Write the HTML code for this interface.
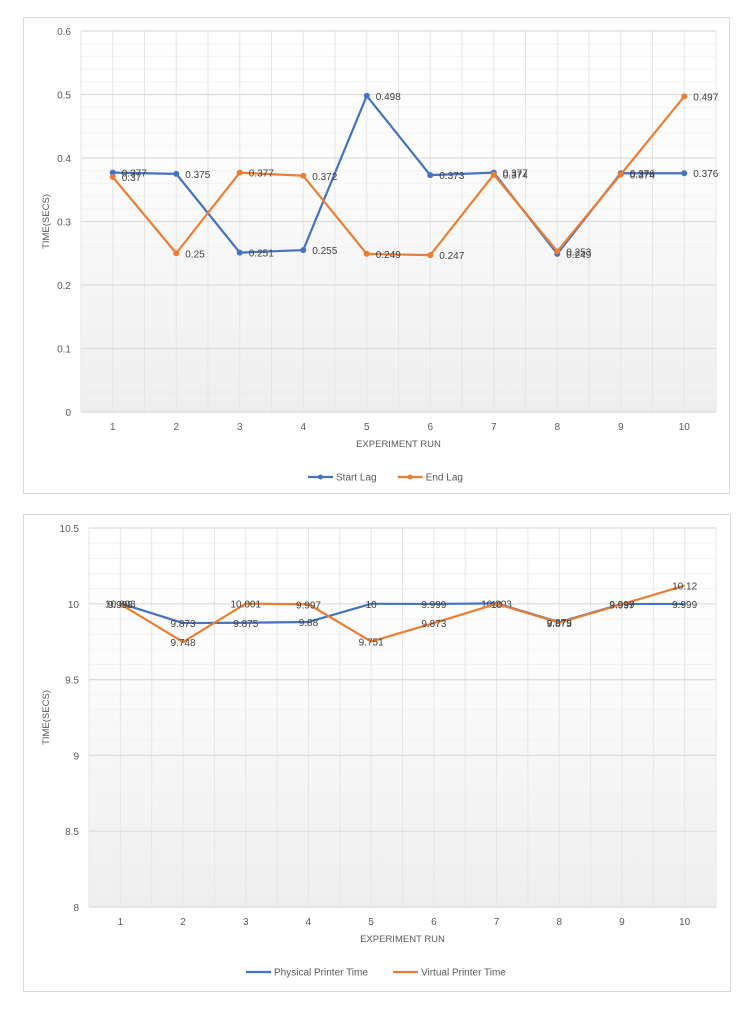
<!DOCTYPE html>
<html><head><meta charset="utf-8">
<style>
body{margin:0;background:#fff;font-family:"Liberation Sans",sans-serif;}
svg text{font-family:"Liberation Sans",sans-serif;}
</style></head>
<body>
<svg id="svg" width="753" height="1015" xmlns="http://www.w3.org/2000/svg">
<defs>
<linearGradient id="bg" x1="0" y1="0" x2="0" y2="1">
<stop offset="0" stop-color="#ffffff"/><stop offset="0.4" stop-color="#fbfbfb"/><stop offset="1" stop-color="#eeeeee"/>
</linearGradient>
</defs>
</svg>
<script>
const categories=["1","2","3","4","5","6","7","8","9","10"];
const startLag=[0.377,0.375,0.251,0.255,0.498,0.373,0.377,0.249,0.376,0.376];
const endLag=[0.37,0.25,0.377,0.372,0.249,0.247,0.374,0.253,0.374,0.497];
const yTicks1=[0,0.1,0.2,0.3,0.4,0.5,0.6];
const physical=[10.003,9.873,9.875,9.88,10,9.999,10.003,9.879,9.999,9.999];
const virtual=[9.998,9.748,10.001,9.997,9.751,9.873,10,9.875,9.997,10.12];
const yTicks2=[8,8.5,9,9.5,10,10.5];

const NS="http://www.w3.org/2000/svg";
const svg=document.getElementById('svg');
function el(tag,attrs,parent){const e=document.createElementNS(NS,tag);for(const k in attrs)e.setAttribute(k,attrs[k]);(parent||svg).appendChild(e);return e;}

function chart(cfg){
  const g=el('g',{});
  
  
  const fr=el('rect',{x:cfg.fx,y:cfg.fy,width:cfg.fw,height:cfg.fh,fill:'#fff',stroke:'#d9d9d9'},g);
  
  
  const L=cfg.L,R=cfg.R,T=cfg.T,B=cfg.B;
  const pa=el('rect',{x:L,y:T,width:R-L,height:B-T,fill:'url(#bg)'},g);
  
  
  const ymin=cfg.ticks[0],ymax=cfg.ticks[cfg.ticks.length-1];
  const y=v=>B-(v-ymin)/(ymax-ymin)*(B-T);
  const n=categories.length,step=(R-L)/n;
  const x=i=>L+step*(i+0.5);
  for(let v=ymin;v<=ymax+1e-9;v+=cfg.minor){el('line',{x1:L,x2:R,y1:y(v),y2:y(v),stroke:'#f3f3f3','stroke-width':1},g);}
  for(let i=0;i<=2*n;i++){const xx=L+step*i/2;el('line',{x1:xx,x2:xx,y1:T,y2:B,stroke:'#e6e6e6','stroke-width':1},g);}
  cfg.ticks.forEach(v=>{
    el('line',{x1:L,x2:R,y1:y(v),y2:y(v),stroke:'#dcdcdc','stroke-width':1.2},g);
    const t=el('text',{x:L-10,y:y(v)+4,'text-anchor':'end','font-size':10,fill:'#595959'},g);t.textContent=String(v);
    
    
  });
  categories.forEach((c,i)=>{
    const t=el('text',{x:x(i),y:B+18,'text-anchor':'middle','font-size':10,fill:'#595959'},g);t.textContent=c;
    
    
  });
  const xt=el('text',{x:(L+R)/2,y:B+35,'text-anchor':'middle','font-size':9.5,fill:'#595959'},g);xt.textContent='EXPERIMENT RUN';
  
  
  const yt=el('text',{x:0,y:0,'text-anchor':'middle','font-size':9.5,fill:'#595959',transform:`translate(${cfg.yTitleX},${(T+B)/2}) rotate(-90)`},g);yt.textContent='TIME(SECS)';
  
  
  cfg.series.forEach(s=>{
    const pts=s.data.map((v,i)=>x(i)+','+y(v)).join(' ');
    const pl=el('polyline',{points:pts,fill:'none',stroke:s.color,'stroke-width':2.2,'stroke-linejoin':'round'},g);
    
    
    s.data.forEach((v,i)=>{
      if(cfg.markers){const c=el('circle',{cx:x(i),cy:y(v),r:3,fill:s.color},g);
        
        }
      const t=cfg.markers?el('text',{x:x(i)+9,y:y(v)+4,'font-size':10,fill:'#404040'},g):el('text',{x:x(i),y:y(v)+4,'text-anchor':'middle','font-size':10,fill:'#404040'},g);
      t.textContent=String(v);
      
      
    });
  });
  let lx=cfg.legendX;const ly=cfg.legendY;
  cfg.series.forEach(s=>{
    const lg=el('g',{},g);
    
    
    el('line',{x1:lx,x2:lx+25,y1:ly,y2:ly,stroke:s.color,'stroke-width':2.2},lg);
    if(cfg.markers)el('circle',{cx:lx+12.5,cy:ly,r:2.5,fill:s.color},lg);
    const t=el('text',{x:lx+28,y:ly+3.5,'font-size':10,fill:'#595959'},lg);t.textContent=s.label;
    lx+=28+s.label.length*cfg.charW+14;
  });
}
chart({name:'lag-chart',fx:23.5,fy:17.5,fw:706,fh:476,L:81,R:716,T:31,B:412,ticks:yTicks1,minor:0.02,yTitleX:49,markers:true,
  series:[{key:'start-lag',label:'Start Lag',data:startLag,color:'#4472c4'},{key:'end-lag',label:'End Lag',data:endLag,color:'#ed7d31'}],
  legendX:308,legendY:477,charW:5.3});
chart({name:'printer-time-chart',fx:23.5,fy:514.5,fw:707,fh:477,L:89,R:716,T:528,B:907,ticks:yTicks2,minor:0.1,yTitleX:49,markers:false,
  series:[{key:'physical-printer-time',label:'Physical Printer Time',data:physical,color:'#4472c4'},{key:'virtual-printer-time',label:'Virtual Printer Time',data:virtual,color:'#ed7d31'}],
  legendX:246,legendY:972,charW:5.0});
</script>
</body></html>
